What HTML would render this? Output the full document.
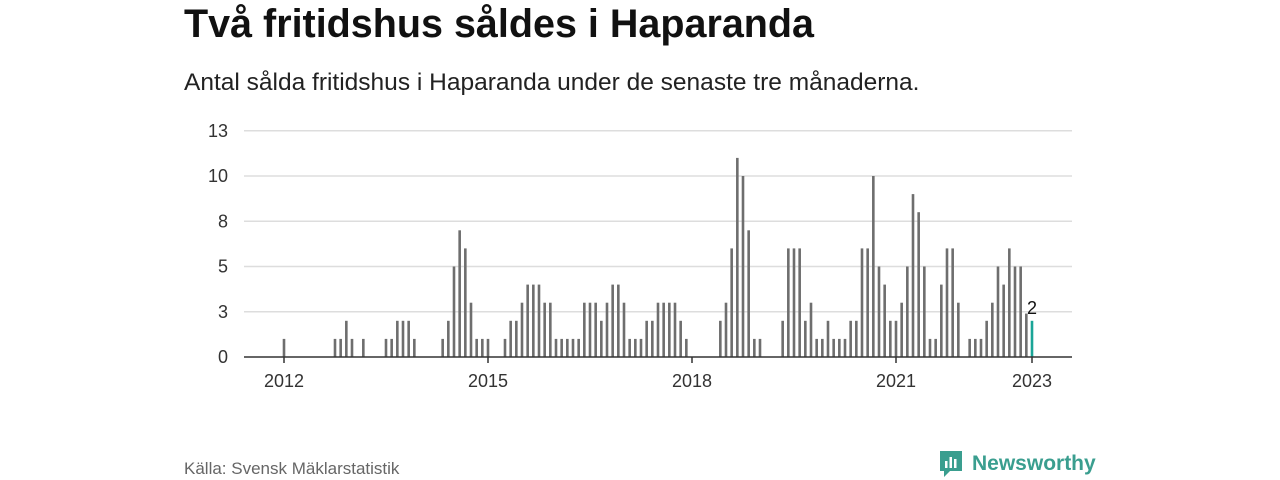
<!DOCTYPE html>
<html><head><meta charset="utf-8"><style>
body{margin:0;background:#fff;font-family:"Liberation Sans",sans-serif;}
#wrap{position:relative;width:1280px;height:480px;overflow:hidden}
h1{position:absolute;left:184px;top:2px;margin:0;font-size:39.5px;font-weight:bold;color:#111}
.sub{position:absolute;left:184px;top:69px;font-size:24.5px;color:#222}
.src{position:absolute;left:184px;top:459px;font-size:17px;color:#666}
.logo{position:absolute;left:938px;top:449px;display:flex;align-items:center;gap:8px;color:#3a9e8f;font-size:21px;font-weight:bold}
</style></head><body>
<div id="wrap">
<h1>Två fritidshus såldes i Haparanda</h1>
<div class="sub">Antal sålda fritidshus i Haparanda under de senaste tre månaderna.</div>
<svg id="chart" width="1280" height="480" style="position:absolute;left:0;top:0"></svg>
<div class="src">Källa: Svensk Mäklarstatistik</div>
<div class="logo"><svg width="26" height="30" viewBox="0 0 26 30"><path d="M2 2h22v20H12l-6 6v-6H2z" fill="#3a9e8f"/><rect x="7" y="12" width="2.5" height="7" fill="#fff"/><rect x="11.5" y="8" width="2.5" height="11" fill="#fff"/><rect x="16" y="10" width="2.5" height="9" fill="#fff"/></svg><span>Newsworthy</span></div>
</div>
<script>
const values=[1,0,0,0,0,0,0,0,0,1,1,2,
1,0,1,0,0,0,1,1,2,2,2,1,
0,0,0,0,1,2,5,7,6,3,1,1,
1,0,0,1,2,2,3,4,4,4,3,3,
1,1,1,1,1,3,3,3,2,3,4,4,
3,1,1,1,2,2,3,3,3,3,2,1,
0,0,0,0,0,2,3,6,11,10,7,1,
1,0,0,0,2,6,6,6,2,3,1,1,
2,1,1,1,2,2,6,6,10,5,4,2,
2,3,5,9,8,5,1,1,4,6,6,3,
0,1,1,1,2,3,5,4,6,5,5,2.4,
2];
const startYear=2012;
const yTicks=[0,2.5,5,7.5,10,12.5];
const yTickLabels=["0","3","5","8","10","13"];
const xTickYears=[2012,2015,2018,2021,2023];
const lastLabel="2";
const NS="http://www.w3.org/2000/svg";
const svg=document.getElementById('chart');
const x0=284,x1=1032,nM=132,y0=357,pxU=18.1;
const X=m=>x0+(x1-x0)*m/nM;
const Y=v=>y0-v*pxU;
function mk(t,a){const e=document.createElementNS(NS,t);for(const k in a)e.setAttribute(k,a[k]);svg.appendChild(e);return e;}
yTicks.forEach((t,i)=>{
 if(t>0){const g=mk('line',{x1:244,x2:1072,y1:Y(t),y2:Y(t),stroke:'#ddd','stroke-width':1.5});
 
 }
 const l=mk('text',{x:228,y:Y(t)+6,'text-anchor':'end','font-size':18,fill:'#333','font-family':'Liberation Sans, sans-serif'});
 l.textContent=yTickLabels[i];
 
 
});
values.forEach((v,i)=>{
 const b=mk('rect',{x:X(i)-1.3,y:Y(v),width:2.6,height:v*pxU,fill:i===values.length-1?'#1aa597':'#6e6e6e'});
 
 
});
const ax=mk('line',{x1:244,x2:1072,y1:y0,y2:y0,stroke:'#333','stroke-width':1.5});


xTickYears.forEach(yr=>{
 const m=(yr-startYear)*12;
 const t=mk('line',{x1:X(m),x2:X(m),y1:y0,y2:y0+6,stroke:'#333','stroke-width':1.5});
 
 
 const l=mk('text',{x:X(m),y:387,'text-anchor':'middle','font-size':18,fill:'#333','font-family':'Liberation Sans, sans-serif'});
 l.textContent=yr;
 
 
});
const li=values.length-1;
const vl=mk('text',{x:X(li),y:Y(values[li])-7,'text-anchor':'middle','font-size':18,fill:'#111','font-family':'Liberation Sans, sans-serif'});
vl.textContent=lastLabel;


</script>
</body></html>
